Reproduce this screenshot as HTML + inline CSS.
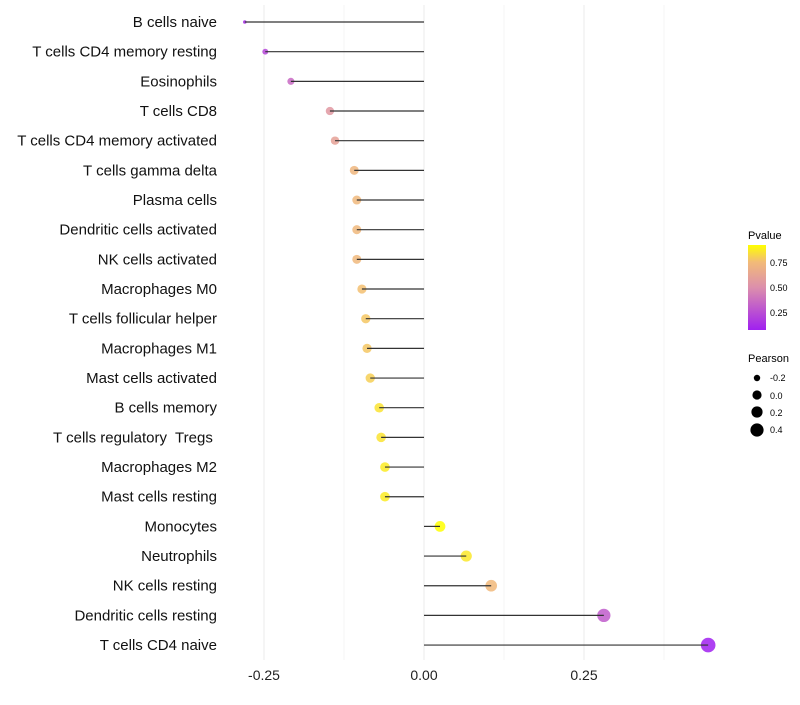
<!DOCTYPE html>
<html><head><meta charset="utf-8"><style>
body{margin:0;background:#fff;font-family:"Liberation Sans",sans-serif}
</style></head><body>
<svg id="chart" width="800" height="700">
<defs><linearGradient id="pg" x1="0" y1="1" x2="0" y2="0">
<stop offset="0" stop-color="#a020f0"/><stop offset="0.5" stop-color="#dc8fac"/><stop offset="0.8" stop-color="#f2bb78"/><stop offset="1" stop-color="#ffff00"/></linearGradient></defs>
<g id="grid"></g><g id="dots"></g><g id="marks"></g><g id="labels"></g>
<g>
<text x="748" y="239" font-size="11">Pvalue</text>
<rect x="748" y="245" width="18" height="85" fill="url(#pg)"/>
<text x="770" y="266" font-size="9">0.75</text>
<text x="770" y="291" font-size="9">0.50</text>
<text x="770" y="316" font-size="9">0.25</text>
</g>
<g>
<text x="748" y="362" font-size="11">Pearson</text>
<circle cx="757" cy="378" r="3.2" fill="#000"/><text x="770" y="381" font-size="9">-0.2</text>
<circle cx="757" cy="395" r="4.6" fill="#000"/><text x="770" y="399" font-size="9">0.0</text>
<circle cx="757" cy="412" r="5.6" fill="#000"/><text x="770" y="416" font-size="9">0.2</text>
<circle cx="757" cy="430" r="6.6" fill="#000"/><text x="770" y="433" font-size="9">0.4</text>
</g>
</svg>
<script>
const categories=["B cells naive","T cells CD4 memory resting","Eosinophils","T cells CD8","T cells CD4 memory activated","T cells gamma delta","Plasma cells","Dendritic cells activated","NK cells activated","Macrophages M0","T cells follicular helper","Macrophages M1","Mast cells activated","B cells memory","T cells regulatory  Tregs ","Macrophages M2","Mast cells resting","Monocytes","Neutrophils","NK cells resting","Dendritic cells resting","T cells CD4 naive"];
const pearson=[-0.28,-0.248,-0.208,-0.147,-0.139,-0.109,-0.105,-0.105,-0.105,-0.097,-0.091,-0.089,-0.084,-0.070,-0.067,-0.061,-0.061,0.025,0.066,0.105,0.281,0.444];
const pvalues=[0.12,0.22,0.35,0.55,0.6,0.72,0.73,0.73,0.73,0.76,0.78,0.78,0.8,0.85,0.85,0.87,0.87,0.95,0.86,0.74,0.3,0.07];
const xTicks=[-0.25,0,0.25];
const xTickLabels=["-0.25","0.00","0.25"];
const NS="http://www.w3.org/2000/svg";
const x=v=>424+v*640;
const y=i=>22+i*29.67;
const r=v=>1.8+5.5*Math.sqrt(Math.max(0,(v+0.28)/0.72));
const stops=[[0,[160,32,240]],[0.5,[220,143,172]],[0.8,[242,187,120]],[1,[255,255,0]]];
function col(p){let t=Math.min(1,Math.max(0,(p-0.07)/0.85));for(let k=1;k<stops.length;k++){if(t<=stops[k][0]){const [t0,a]=stops[k-1],[t1,b]=stops[k];const u=(t-t0)/(t1-t0);return`rgb(${a.map((q,j)=>Math.round(q+(b[j]-q)*u)).join(",")})`;}}return"rgb(255,255,0)";}
function mk(tag,at,parent){const el=document.createElementNS(NS,tag);for(const k in at)el.setAttribute(k,at[k]);document.getElementById(parent).appendChild(el);return el;}
[-0.125,0.125,0.375].forEach(v=>{const g=mk("line",{x1:x(v),x2:x(v),y1:5,y2:660,stroke:"#f4f4f4","stroke-width":1},"grid");

});
xTicks.forEach((v,i)=>{const g=mk("line",{x1:x(v),x2:x(v),y1:5,y2:660,stroke:"#ebebeb","stroke-width":1},"grid");


const t=mk("text",{x:x(v),y:680,"font-size":14,"text-anchor":"middle",fill:"#222"},"labels");t.textContent=xTickLabels[i];

});
categories.forEach((c,i)=>{
const t=mk("text",{x:217,y:y(i)+5,"font-size":15,"text-anchor":"end",fill:"#111",style:"white-space:pre"},"labels");t.textContent=c;


const d=mk("circle",{cx:x(pearson[i]),cy:y(i),r:r(pearson[i]),fill:col(pvalues[i]),"fill-opacity":0.85},"dots");


const l=mk("line",{x1:x(0),x2:x(pearson[i]),y1:y(i),y2:y(i),stroke:"#333","stroke-width":1.2},"marks");


});
</script>
</body></html>
